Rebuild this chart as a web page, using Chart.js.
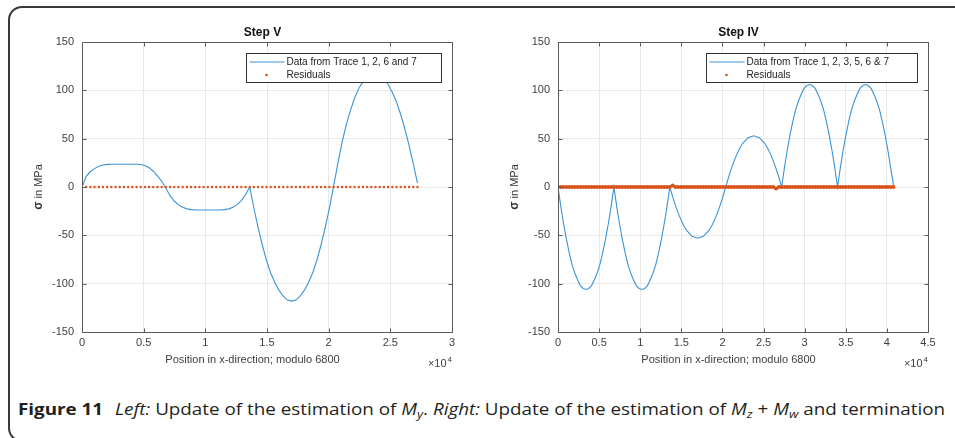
<!DOCTYPE html>
<html>
<head>
<meta charset="utf-8">
<script src="https://cdn.jsdelivr.net/npm/chart.js@4.4.1/dist/chart.umd.min.js"></script>
<style>
  html, body { margin: 0; padding: 0; background: #fff; }
  body { width: 955px; height: 438px; position: relative; overflow: hidden; }
  .frame { position: absolute; left: 8px; top: 6px; width: 1000px; height: 436px;
           border: 2px solid #3a3a3a; border-radius: 14px; box-sizing: border-box; }
  canvas { position: absolute; top: 0; }
  #leftChart { left: 0; }
  #rightChart { left: 478px; }
  .caption { position: absolute; left: 18px; top: 398px; font-family: "Open Sans", sans-serif;
             font-size: 16px; color: #231f20; white-space: nowrap; transform-origin: 0 0; }
  .caption b { font-weight: 700; margin-right: 6px; }
  .caption sub { font-size: 70%; vertical-align: -3px; line-height: 0; }
</style>
</head>
<body>
<div class="frame"></div>
<canvas id="leftChart" width="477" height="380"></canvas>
<canvas id="rightChart" width="477" height="380"></canvas>
<div class="caption" id="caption"><b>Figure 11</b> <i>Left:</i> Update of the estimation of <i>M</i><sub><i>y</i></sub>. <i>Right:</i> Update of the estimation of <i>M</i><sub><i>z</i></sub> + <i>M</i><sub><i>w</i></sub> and termination</div>
<script>
// sample spacing along x (position, modulo 6800)
var stepLeft = 340;
var stepRight = 340;

// Step V: data from trace 1, 2, 6 and 7 (MPa)
var traceLeft = [
  0, 11, 16, 19, 21.5, 22.8, 23.4, 23.6, 23.6, 23.6, 23.6, 23.6, 23.6, 23.5, 23.2, 22.3, 20, 16.3, 11.5, 6, -1,
  -9, -14.5, -18.5, -21, -22.6, -23.4, -23.7, -23.8, -23.8, -23.8, -23.8, -23.8, -23.7, -23.4, -22.6, -21, -18.3, -14, -8, 0,
  -22, -42, -60, -76, -89, -99, -107, -113, -117, -118, -117, -113, -107, -99, -89, -76, -60, -42, -22, 1,
  24, 46, 64, 79, 92, 102, 109, 114, 117, 117, 116, 112, 106, 98, 88, 75, 60, 43, 24, 4
];
var residualsLeft = [
  0, 0, 0, 0, 0, 0, 0, 0, 0, 0, 0, 0, 0, 0, 0, 0, 0, 0, 0, 0, 0,
  0, 0, 0, 0, 0, 0, 0, 0, 0, 0, 0, 0, 0, 0, 0, 0, 0, 0, 0, 0,
  0, 0, 0, 0, 0, 0, 0, 0, 0, 0, 0, 0, 0, 0, 0, 0, 0, 0, 0, 0,
  0, 0, 0, 0, 0, 0, 0, 0, 0, 0, 0, 0, 0, 0, 0, 0, 0, 0, 0, 0
];

// Step IV: data from trace 1, 2, 3, 5, 6 & 7 (MPa)
var traceRight = [
  0, -20, -38, -54, -68, -80, -89, -96, -102, -105, -106, -105, -102, -96, -89, -80, -68, -54, -38, -20, 0,
  -20, -38, -54, -68, -80, -89, -96, -102, -105, -106, -105, -102, -96, -89, -80, -68, -54, -38, -20, 0,
  -10, -19, -27, -34, -40, -45, -48, -51, -52, -53, -52, -51, -48, -45, -40, -34, -27, -19, -10, 0,
  10, 19, 27, 34, 40, 45, 48, 51, 52, 53, 52, 51, 48, 45, 40, 34, 27, 19, 10, 0,
  20, 38, 54, 68, 80, 89, 96, 102, 105, 106, 105, 102, 96, 89, 80, 68, 54, 38, 20, 0,
  20, 38, 54, 68, 80, 89, 96, 102, 105, 106, 105, 102, 96, 89, 80, 68, 54, 38, 20, 2
];
var residualsRight = [
  0, 0, 0, 0, 0, 0, 0, 0, 0, 0, 0, 0, 0, 0, 0, 0, 0, 0, 0, 0, 0,
  0, 0, 0, 0, 0, 0, 0, 0, 0, 0, 0, 0, 0, 0, 0, 0, 0, 0, 0, 0,
  1.5, 0, 0, 0, 0, 0, 0, 0, 0, 0, 0, 0, 0, 0, 0, 0, 0, 0, 0, 0,
  0, 0, 0, 0, 0, 0, 0, 0, 0, 0, 0, 0, 0, 0, 0, 0, 0, -1.5, 0, 0,
  0, 0, 0, 0, 0, 0, 0, 0, 0, 0, 0, 0, 0, 0, 0, 0, 0, 0, 0, 0,
  0, 0, 0, 0, 0, 0, 0, 0, 0, 0, 0, 0, 0, 0, 0, 0, 0, 0, 0, 0
];

var yTicks = { min: -150, max: 150, step: 50 };
var xStep = 5000;

var FONT = '"Liberation Sans", Arial, sans-serif';
var BLUE = '#3b93d6';
var ORANGE = '#d95319';

function toPoints(values, step) {
  return values.map(function (v, i) { return { x: i * step, y: v }; });
}

// axes box, inward ticks, titles and legend, drawn like the MATLAB figure
var decor = {
  id: 'decor',
  afterDraw: function (chart) {
    var o = chart.options.plugins.decor;
    var ctx = chart.ctx, a = chart.chartArea;
    var xs = chart.scales.x, ys = chart.scales.y;
    ctx.save();

    var L = Math.round(a.left) + 0.5, R = Math.round(a.right) + 0.5;
    var T = Math.round(a.top) + 0.5, B = Math.round(a.bottom) + 0.5;
    ctx.strokeStyle = '#5a5a5a';
    ctx.lineWidth = 1;
    ctx.beginPath();
    ctx.rect(L, T, R - L, B - T);
    xs.ticks.forEach(function (t) {
      var p = Math.round(xs.getPixelForValue(t.value)) + 0.5;
      ctx.moveTo(p, B); ctx.lineTo(p, B - 4);
      ctx.moveTo(p, T); ctx.lineTo(p, T + 4);
    });
    ys.ticks.forEach(function (t) {
      var p = Math.round(ys.getPixelForValue(t.value)) + 0.5;
      ctx.moveTo(L, p); ctx.lineTo(L + 4, p);
      ctx.moveTo(R, p); ctx.lineTo(R - 4, p);
    });
    ctx.stroke();

    var cx = (a.left + a.right) / 2;
    ctx.fillStyle = '#111';
    ctx.font = 'bold 12px ' + FONT;
    ctx.textAlign = 'center';
    ctx.textBaseline = 'middle';
    ctx.fillText(o.title, cx - 4.5, 33);

    ctx.fillStyle = '#404040';
    ctx.font = '11px ' + FONT;
    ctx.fillText('Position in x-direction; modulo 6800', cx - 14.5, 360);

    // x 10^4 multiplier
    ctx.textAlign = 'right';
    ctx.textBaseline = 'alphabetic';
    ctx.font = '8px ' + FONT;
    ctx.fillText('4', a.right, 362);
    var w4 = ctx.measureText('4').width;
    ctx.font = '11px ' + FONT;
    ctx.fillText('\u00d710', a.right - w4 - 1, 367);

    // y label: bold sigma + " in MPa"
    ctx.save();
    ctx.translate(a.left - 43, 187);
    ctx.rotate(-Math.PI / 2);
    ctx.textAlign = 'left';
    ctx.textBaseline = 'middle';
    ctx.fillStyle = '#333';
    ctx.font = 'bold 12px ' + FONT;
    var ws = ctx.measureText('\u03c3').width;
    ctx.font = '11px ' + FONT;
    var wr = ctx.measureText(' in MPa').width;
    var sx = -(ws + wr) / 2;
    ctx.font = 'bold 12px ' + FONT;
    ctx.fillText('\u03c3', sx, 0);
    ctx.font = '11px ' + FONT;
    ctx.fillText(' in MPa', sx + ws, 0);
    ctx.restore();

    // legend
    var bw = o.legendWidth, bh = 29;
    var bx = Math.round(a.right - 11 - bw) + 0.5, by = Math.round(a.top + 11) + 0.5;
    ctx.fillStyle = '#fff';
    ctx.fillRect(bx, by, bw, bh);
    ctx.strokeStyle = '#333';
    ctx.strokeRect(bx, by, bw, bh);
    ctx.strokeStyle = BLUE;
    ctx.beginPath();
    ctx.moveTo(bx + 3, by + 8.5); ctx.lineTo(bx + 38, by + 8.5);
    ctx.stroke();
    ctx.fillStyle = ORANGE;
    ctx.beginPath();
    ctx.arc(bx + 20, by + 21.5, 1.3, 0, Math.PI * 2);
    ctx.fill();
    ctx.fillStyle = '#222';
    ctx.font = '10px ' + FONT;
    ctx.textAlign = 'left';
    ctx.textBaseline = 'middle';
    ctx.fillText(o.legendText, bx + 40, by + 9);
    ctx.fillText('Residuals', bx + 40, by + 22);

    ctx.restore();
  }
};

function makeChart(id, xMax, trace, step, residuals, dotRadius, pad, opts) {
  return new Chart(document.getElementById(id), {
    type: 'scatter',
    data: {
      datasets: [{
        data: toPoints(trace, step),
        showLine: true,
        borderColor: BLUE,
        borderWidth: 1.1,
        pointRadius: 0,
        tension: 0,
        order: 1
      }, {
        data: toPoints(residuals, step),
        showLine: false,
        pointRadius: dotRadius,
        pointBorderWidth: 0,
        pointBackgroundColor: ORANGE,
        order: 0
      }]
    },
    options: {
      responsive: false,
      animation: false,
      devicePixelRatio: 1,
      layout: { padding: pad },
      plugins: { legend: { display: false }, tooltip: { enabled: false }, decor: opts },
      scales: {
        x: {
          type: 'linear', min: 0, max: xMax,
          afterFit: function (s) { s.height = 30; },
          border: { display: false },
          grid: { color: '#e8e8e8', drawTicks: false },
          ticks: {
            stepSize: xStep, autoSkip: false, maxRotation: 0, padding: 4,
            color: '#404040', font: { family: FONT, size: 11 },
            callback: function (v) { return String(v / 1e4); }
          }
        },
        y: {
          min: yTicks.min, max: yTicks.max,
          afterFit: function (s) { s.width = 50; },
          border: { display: false },
          grid: { color: '#e8e8e8', drawTicks: false },
          ticks: {
            stepSize: yTicks.step, autoSkip: false, padding: 8,
            color: '#404040', font: { family: FONT, size: 11 }
          }
        }
      }
    },
    plugins: [decor]
  });
}

makeChart('leftChart', 30000, traceLeft, stepLeft, residualsLeft, 1.2,
  { left: 32, right: 25, top: 42, bottom: 18 },
  { title: 'Step V', legendText: 'Data from Trace 1, 2, 6 and 7', legendWidth: 195 });

makeChart('rightChart', 45000, traceRight, stepRight, residualsRight, 2,
  { left: 30, right: 27, top: 42, bottom: 18 },
  { title: 'Step IV', legendText: 'Data from Trace 1, 2, 3, 5, 6 & 7', legendWidth: 211 });

// fit caption to the width of the original line
var cap = document.getElementById('caption');
var w = cap.getBoundingClientRect().width;
cap.style.transform = 'scaleX(' + (927 / w) + ')';
</script>
</body>
</html>
